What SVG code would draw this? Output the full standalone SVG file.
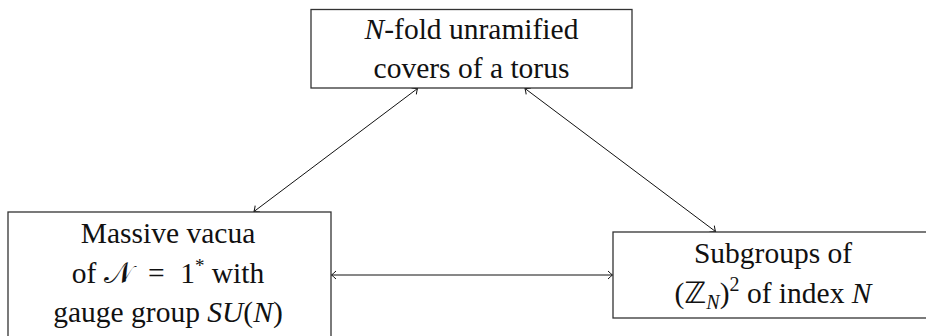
<svg xmlns="http://www.w3.org/2000/svg" width="926" height="336" viewBox="0 0 926 336">
<style>
.box{fill:#fff;stroke:#333;stroke-width:1.3}
.c{fill:none;stroke:#111;stroke-width:1}
</style>
<defs>
<marker id="to" markerUnits="userSpaceOnUse" viewBox="-6 -5 8 10" markerWidth="8" markerHeight="10" refX="0" refY="0" orient="auto-start-reverse">
<path d="M-4.5,-4 Q-1.2,-0.8 0,0 Q-1.2,0.8 -4.5,4" fill="none" stroke="#111" stroke-width="1"/>
</marker>
</defs>
<g id="connectors">
<line class="c" x1="417.5" y1="88.5" x2="254" y2="211.5" marker-start="url(#to)" marker-end="url(#to)"/>
<line class="c" x1="525" y1="88.5" x2="715.5" y2="231.5" marker-start="url(#to)" marker-end="url(#to)"/>
<line class="c" x1="331.5" y1="275" x2="612.5" y2="275" marker-start="url(#to)" marker-end="url(#to)"/>
</g>
<g id="top">
<rect class="box" x="311" y="9.5" width="321" height="78.5"/>
<text x="471.5" y="39" font-family="Liberation Serif, serif" font-size="29.5" fill="#111" text-anchor="middle"><tspan font-style="italic">N</tspan>-fold unramified</text>
<text x="471.5" y="78" font-family="Liberation Serif, serif" font-size="29.5" fill="#111" text-anchor="middle">covers of a torus</text>
</g>
<g id="left">
<rect class="box" x="8" y="212" width="323" height="130"/>
<text x="168" y="243" font-family="Liberation Serif, serif" font-size="29.5" fill="#111" text-anchor="middle">Massive vacua</text>
<text x="168" y="283" font-family="Liberation Serif, serif" font-size="29.5" fill="#111" text-anchor="middle">of <tspan font-family="DejaVu Sans, serif">𝒩</tspan><tspan dx="8"> = </tspan><tspan dx="8">1</tspan><tspan dy="-11" font-size="19">*</tspan><tspan dy="11"> with</tspan></text>
<text x="168" y="322" font-family="Liberation Serif, serif" font-size="29.5" fill="#111" text-anchor="middle">gauge group <tspan font-style="italic">SU</tspan>(<tspan font-style="italic">N</tspan>)</text>
</g>
<g id="right">
<rect class="box" x="613" y="232" width="322" height="86"/>
<text x="773" y="263" font-family="Liberation Serif, serif" font-size="29.5" fill="#111" text-anchor="middle">Subgroups of</text>
<text x="773" y="303" font-family="Liberation Serif, serif" font-size="29.5" fill="#111" text-anchor="middle">(<tspan font-family="DejaVu Sans, serif">ℤ</tspan><tspan font-style="italic" dy="6" font-size="20">N</tspan><tspan dy="-6">)</tspan><tspan dy="-12" font-size="20">2</tspan><tspan dy="12"> of index </tspan><tspan font-style="italic">N</tspan></text>
</g>
</svg>
